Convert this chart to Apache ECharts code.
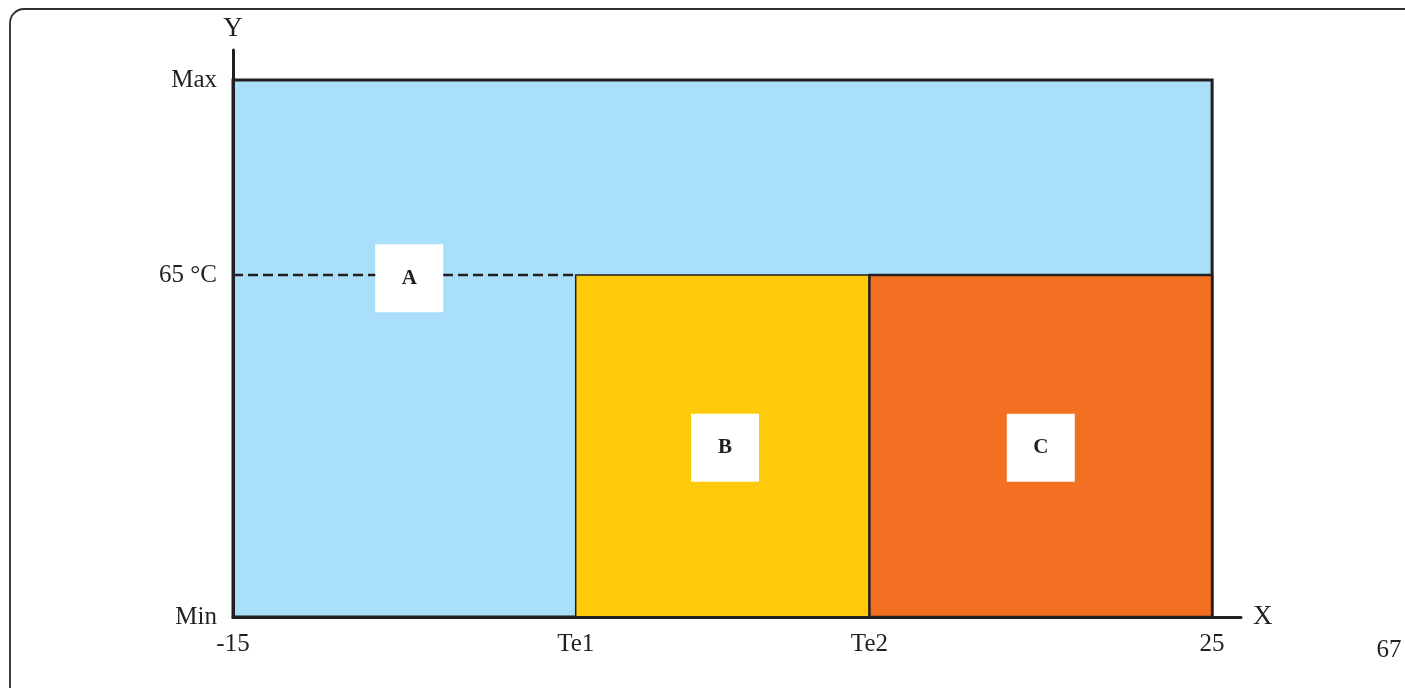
<!DOCTYPE html>
<html>
<head>
<meta charset="utf-8">
<script src="https://cdn.jsdelivr.net/npm/echarts@6/dist/echarts.min.js"></script>
<style>
html,body{margin:0;padding:0;background:#fff;}
#chart{width:1405px;height:688px;}
</style>
</head>
<body>
<div id="chart"></div>
<script>
// ---- data ----
const xTickValues = [-15, -1, 11, 25];
const xTickLabels = ['-15', 'Te1', 'Te2', '25'];
const yTickValues = [0, 63.7, 100];
const yTickLabels = ['Min', '65 °C', 'Max'];
const zoneNames = ['A', 'B', 'C'];
const zoneX0 = [-15, -1, 11];
const zoneX1 = [25, 11, 25];
const zoneY0 = [0, 0, 0];
const zoneY1 = [100, 63.7, 63.7];
const labelX = [-7.8, 5.1, 18.0];
const labelY = [63.1, 31.5, 31.5];
const dashX = [-15, -1];
const dashY = [63.7, 63.7];
const pageNumber = '67';

// ---- styles ----
const INK = '#231f20';
const FONT = '"Liberation Serif", "DejaVu Serif", serif';
const zoneFill = ['#a9dff9', '#ffca0a', '#f36f21'];
const zoneStrokeW = [3, 1.5, 2.5];

const chart = echarts.init(document.getElementById('chart'), null, {renderer: 'canvas'});

function lookup(values, labels, v) {
  for (let i = 0; i < values.length; i++) {
    if (Math.abs(values[i] - v) < 1e-6) return labels[i];
  }
  return '';
}

const option = {
  animation: false,
  backgroundColor: '#ffffff',
  grid: {left: 233, right: 164, top: 50, bottom: 71, containLabel: false},
  xAxis: {
    type: 'value',
    min: -15,
    max: 26.18,
    z: 10,
    name: 'X',
    nameLocation: 'end',
    nameGap: 12,
    nameTextStyle: {fontFamily: FONT, fontSize: 27, color: INK, padding: [0, 0, 8, 0]},
    axisLine: {show: true, onZero: false, lineStyle: {color: INK, width: 3}},
    axisTick: {show: false},
    splitLine: {show: false},
    axisLabel: {
      customValues: xTickValues,
      formatter: v => lookup(xTickValues, xTickLabels, v),
      fontFamily: FONT, fontSize: 25, color: INK, margin: 15
    }
  },
  yAxis: {
    type: 'value',
    min: 0,
    max: 105.59,
    z: 10,
    name: 'Y',
    nameLocation: 'end',
    nameGap: 8,
    nameTextStyle: {fontFamily: FONT, fontSize: 27, color: INK, align: 'center'},
    axisLine: {show: true, onZero: false, lineStyle: {color: INK, width: 3}},
    axisTick: {show: false},
    splitLine: {show: false},
    axisLabel: {
      customValues: yTickValues,
      formatter: v => lookup(yTickValues, yTickLabels, v),
      fontFamily: FONT, fontSize: 25, color: INK, margin: 16
    }
  },
  graphic: [
    {
      type: 'rect', z: 0, silent: true,
      shape: {x: 10, y: 9, width: 1430, height: 720, r: 14},
      style: {fill: 'none', stroke: '#2e2e2e', lineWidth: 1.8}
    },
    {
      type: 'text', z: 1, silent: true,
      x: 1389, y: 650,
      style: {text: pageNumber, font: '25px ' + FONT, fill: INK, align: 'center', verticalAlign: 'middle'}
    }
  ],
  series: [
    {
      type: 'custom',
      z: 2,
      silent: true,
      data: zoneNames.map((n, i) => [zoneX0[i], zoneY0[i], zoneX1[i], zoneY1[i]]),
      encode: {x: [0, 2], y: [1, 3]},
      renderItem: function (params, api) {
        const i = params.dataIndex;
        const p0 = api.coord([api.value(0), api.value(3)]);
        const p1 = api.coord([api.value(2), api.value(1)]);
        return {
          type: 'rect',
          shape: {x: p0[0], y: p0[1], width: p1[0] - p0[0], height: p1[1] - p0[1]},
          style: {fill: zoneFill[i], stroke: INK, lineWidth: zoneStrokeW[i]}
        };
      }
    },
    {
      type: 'line',
      z: 3,
      silent: true,
      symbol: 'none',
      data: dashX.map((x, i) => [x, dashY[i]]),
      lineStyle: {color: INK, width: 2.5, type: [10, 5]}
    },
    {
      type: 'custom',
      z: 4,
      silent: true,
      data: zoneNames.map((n, i) => [labelX[i], labelY[i]]),
      renderItem: function (params, api) {
        const i = params.dataIndex;
        const c = api.coord([api.value(0), api.value(1)]);
        const s = 68;
        return {
          type: 'group',
          children: [
            {type: 'rect', shape: {x: c[0] - s / 2, y: c[1] - s / 2, width: s, height: s}, style: {fill: '#ffffff'}},
            {type: 'text', x: c[0], y: c[1], style: {text: zoneNames[i], font: 'bold 21px ' + FONT, fill: INK, align: 'center', verticalAlign: 'middle'}}
          ]
        };
      }
    }
  ]
};
chart.setOption(option);
</script>
</body>
</html>
